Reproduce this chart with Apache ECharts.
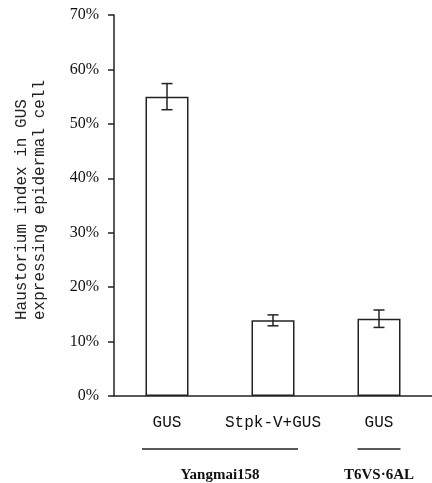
<!DOCTYPE html>
<html><head><meta charset="utf-8">
<script src="https://cdn.jsdelivr.net/npm/echarts@6/dist/echarts.min.js"></script>
<style>html,body{margin:0;padding:0;background:#fff}#c{width:432px;height:483px}</style>
</head><body><div id="c"></div>
<script>
var categories = ['GUS', 'Stpk-V+GUS', 'GUS'];
var values = [55.0, 13.9, 14.2];
var errors = [2.4, 1.0, 1.6];
var yTicks = [0, 10, 20, 30, 40, 50, 60, 70];
var groups = [
  {name: 'Yangmai158', from: 0, to: 1},
  {name: 'T6VS\u00b76AL', from: 2, to: 2}
];
var yTitle = ['Haustorium index in GUS', 'expressing epidermal cell'];

var ink = '#222';
var mono = '"Liberation Mono", "DejaVu Sans Mono", monospace';
var chart = echarts.init(document.getElementById('c'));
var errData = values.map(function (v, i) { return [i, v - errors[i], v + errors[i]]; });

chart.setOption({
  animation: false,
  grid: {left: 114, top: 15, width: 324, height: 381, containLabel: false},
  xAxis: {
    type: 'category', data: categories,
    axisLine: {lineStyle: {color: ink, width: 1.5}},
    axisTick: {length: 5, lineStyle: {color: ink, width: 1.5}},
    axisLabel: {color: '#111', fontFamily: mono, fontSize: 16, margin: 19, interval: 0, hideOverlap: false}
  },
  yAxis: {
    type: 'value', min: yTicks[0], max: yTicks[yTicks.length - 1], interval: 10,
    axisLine: {show: true, lineStyle: {color: ink, width: 1.5}},
    axisTick: {show: true, length: 6, lineStyle: {color: ink, width: 1.5}},
    splitLine: {show: false},
    axisLabel: {color: '#111', fontFamily: '"Liberation Serif", serif', fontSize: 16, margin: 15,
      formatter: function (v) { return v + '%'; }}
  },
  series: [
    {type: 'bar', data: values, barWidth: 43,
      itemStyle: {color: '#fff', borderColor: ink, borderWidth: 1.5}},
    {type: 'custom', data: errData, z: 5,
      renderItem: function (params, api) {
        var x = api.coord([api.value(0), 0])[0];
        var lo = api.coord([api.value(0), api.value(1)])[1];
        var hi = api.coord([api.value(0), api.value(2)])[1];
        var c = 5.5;
        var st = {stroke: ink, lineWidth: 1.5};
        return {type: 'group', children: [
          {type: 'line', shape: {x1: x, y1: lo, x2: x, y2: hi}, style: st},
          {type: 'line', shape: {x1: x - c, y1: lo, x2: x + c, y2: lo}, style: st},
          {type: 'line', shape: {x1: x - c, y1: hi, x2: x + c, y2: hi}, style: st}
        ]};
      }}
  ]
});

var gfx = [];
groups.forEach(function (g) {
  var a = chart.convertToPixel({xAxisIndex: 0}, g.from);
  var b = chart.convertToPixel({xAxisIndex: 0}, g.to);
  var pad = g.from === g.to ? 21.5 : 25;
  var x1 = a - pad, x2 = b + pad;
  gfx.push({type: 'line', shape: {x1: x1, y1: 449, x2: x2, y2: 449}, style: {stroke: ink, lineWidth: 1.5}});
  gfx.push({type: 'text', x: (x1 + x2) / 2, y: 475, style: {text: g.name, fill: '#111',
    font: 'bold 15px "Liberation Serif", serif', textAlign: 'center', textVerticalAlign: 'middle'}});
});
yTitle.forEach(function (t, i) {
  gfx.push({type: 'text', x: 22 + i * 18, y: 320, rotation: Math.PI / 2,
    style: {text: t, fill: ink, font: '16px ' + mono, textAlign: 'left', textVerticalAlign: 'middle'}});
});
chart.setOption({graphic: gfx});
</script></body></html>
